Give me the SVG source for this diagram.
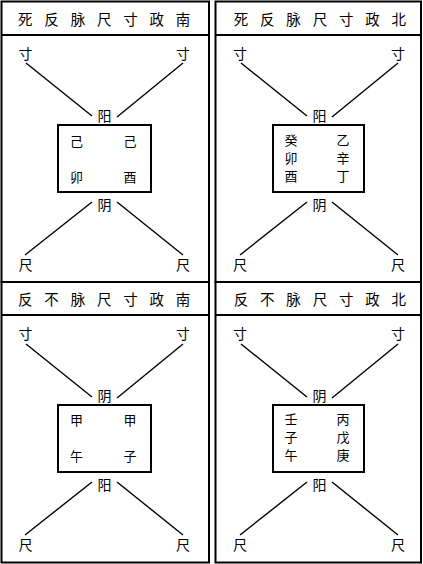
<svg xmlns="http://www.w3.org/2000/svg" width="423" height="564" viewBox="0 0 423 564">
<style>
.frame{fill:none;stroke:#000;stroke-width:2}
.box{fill:#fff;stroke:#000;stroke-width:2}
.ln{stroke:#000;stroke-width:1.4;fill:none}
text{font-family:"Noto Sans CJK SC","Noto Sans CJK TC",sans-serif;fill:#000;text-anchor:middle}
.hd{font-size:14.5px}
.lb{font-size:14px}
.bx{font-size:13px}
</style>
<rect width="423" height="564" fill="#fff"/>
<g id="panel-1">
<rect class="frame" x="1.5" y="1.5" width="207.5" height="280.5"/>
<line class="frame" x1="1.5" y1="35" x2="209" y2="35"/>
<text class="hd" y="24.5" x="25.3 51.6 77.9 104.2 130.5 156.8 183.1">死反脉尺寸政南</text>
<text class="lb" x="25.5" y="59">寸</text>
<text class="lb" x="183" y="59">寸</text>
<text class="lb" x="104.5" y="120.5">阳</text>
<rect class="box" x="58" y="125" width="93" height="67"/>
<text class="bx" x="76.5" y="145.5">己</text>
<text class="bx" x="130" y="145.5">己</text>
<text class="bx" x="76.5" y="181.5">卯</text>
<text class="bx" x="130" y="181.5">酉</text>
<text class="lb" x="104.5" y="210">阴</text>
<text class="lb" x="25.5" y="270">尺</text>
<text class="lb" x="183" y="270">尺</text>
</g>
<g id="panel-2">
<rect class="frame" x="215.5" y="1.5" width="205.5" height="280.5"/>
<line class="frame" x1="215.5" y1="35" x2="421" y2="35"/>
<text class="hd" y="24.5" x="241 267.3 293.6 319.9 346.2 372.5 398.8">死反脉尺寸政北</text>
<text class="lb" x="240" y="59">寸</text>
<text class="lb" x="398" y="59">寸</text>
<text class="lb" x="319.5" y="120.5">阳</text>
<rect class="box" x="273" y="125" width="91" height="67"/>
<text class="bx" x="291" y="144.5">癸</text>
<text class="bx" x="291" y="162.5">卯</text>
<text class="bx" x="291" y="180.5">酉</text>
<text class="bx" x="343" y="144.5">乙</text>
<text class="bx" x="343" y="162.5">辛</text>
<text class="bx" x="343" y="180.5">丁</text>
<text class="lb" x="319.5" y="210">阴</text>
<text class="lb" x="240" y="270">尺</text>
<text class="lb" x="398" y="270">尺</text>
</g>
<g id="panel-3">
<rect class="frame" x="1.5" y="282" width="207.5" height="280.5"/>
<line class="frame" x1="1.5" y1="315" x2="209" y2="315"/>
<text class="hd" y="304.5" x="25.3 51.6 77.9 104.2 130.5 156.8 183.1">反不脉尺寸政南</text>
<text class="lb" x="25.5" y="339">寸</text>
<text class="lb" x="183" y="339">寸</text>
<text class="lb" x="104.5" y="400.5">阴</text>
<rect class="box" x="58" y="405" width="93" height="67"/>
<text class="bx" x="76.5" y="425">甲</text>
<text class="bx" x="130" y="425">甲</text>
<text class="bx" x="76.5" y="461">午</text>
<text class="bx" x="130" y="461">子</text>
<text class="lb" x="104.5" y="490">阳</text>
<text class="lb" x="25.5" y="550">尺</text>
<text class="lb" x="183" y="550">尺</text>
</g>
<g id="panel-4">
<rect class="frame" x="215.5" y="282" width="205.5" height="280.5"/>
<line class="frame" x1="215.5" y1="315" x2="421" y2="315"/>
<text class="hd" y="304.5" x="241 267.3 293.6 319.9 346.2 372.5 398.8">反不脉尺寸政北</text>
<text class="lb" x="240" y="339">寸</text>
<text class="lb" x="398" y="339">寸</text>
<text class="lb" x="319.5" y="400.5">阴</text>
<rect class="box" x="273" y="405" width="91" height="67"/>
<text class="bx" x="291" y="424">壬</text>
<text class="bx" x="291" y="442">子</text>
<text class="bx" x="291" y="460">午</text>
<text class="bx" x="343" y="424">丙</text>
<text class="bx" x="343" y="442">戊</text>
<text class="bx" x="343" y="460">庚</text>
<text class="lb" x="319.5" y="490">阳</text>
<text class="lb" x="240" y="550">尺</text>
<text class="lb" x="398" y="550">尺</text>
</g>
<g id="connectors">
<line class="ln" x1="26" y1="63" x2="92" y2="116"/>
<line class="ln" x1="183" y1="63" x2="117" y2="117"/>
<line class="ln" x1="92" y1="202" x2="25" y2="255"/>
<line class="ln" x1="117" y1="202" x2="183" y2="255"/>
<line class="ln" x1="241" y1="63" x2="307" y2="116"/>
<line class="ln" x1="398" y1="63" x2="332" y2="117"/>
<line class="ln" x1="307" y1="202" x2="240" y2="255"/>
<line class="ln" x1="332" y1="202" x2="398" y2="255"/>
<line class="ln" x1="26" y1="344" x2="92" y2="397"/>
<line class="ln" x1="183" y1="344" x2="117" y2="398"/>
<line class="ln" x1="92" y1="482" x2="25" y2="535"/>
<line class="ln" x1="117" y1="482" x2="183" y2="535"/>
<line class="ln" x1="241" y1="344" x2="307" y2="397"/>
<line class="ln" x1="398" y1="344" x2="332" y2="398"/>
<line class="ln" x1="307" y1="482" x2="240" y2="535"/>
<line class="ln" x1="332" y1="482" x2="398" y2="535"/>
</g>
</svg>
